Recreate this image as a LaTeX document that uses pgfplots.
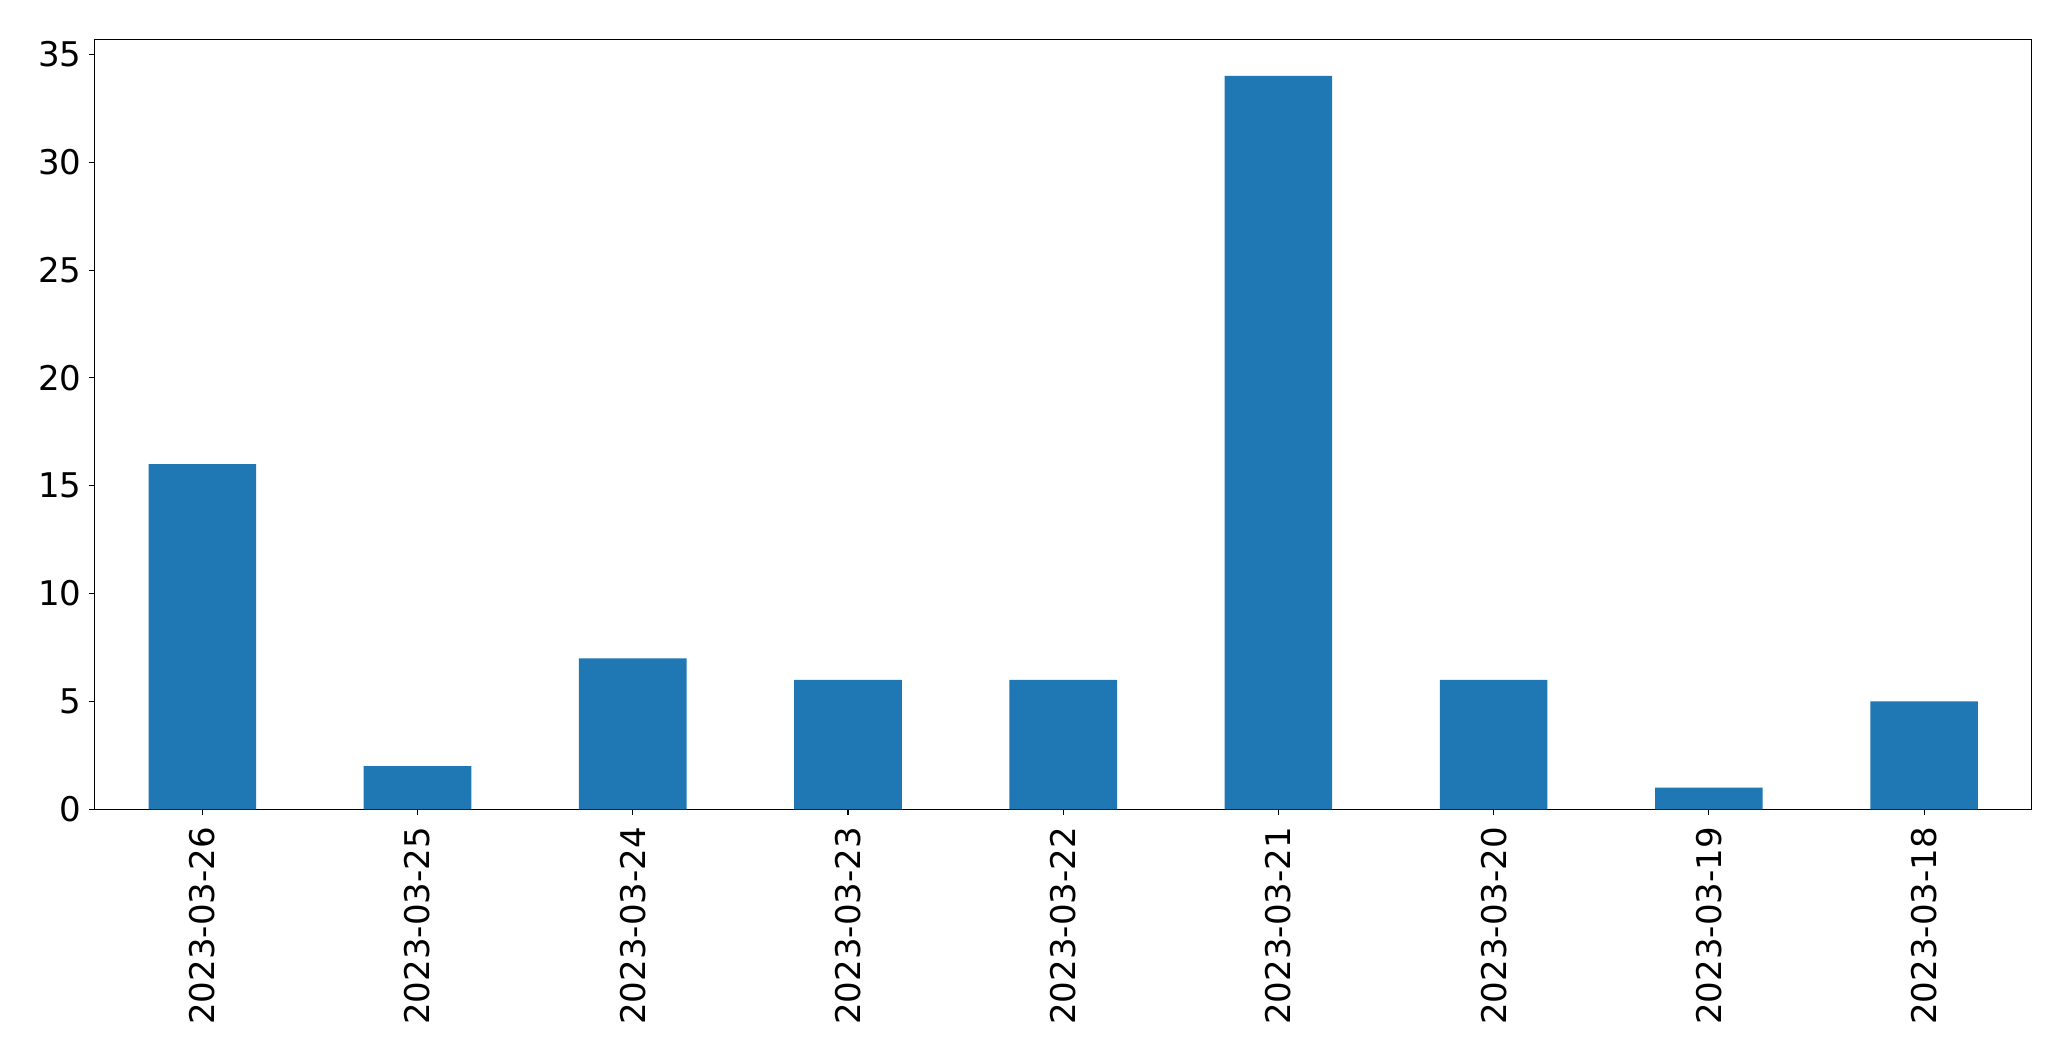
\documentclass[border=0pt]{standalone}
\usepackage{pgfplots}
\pgfplotsset{compat=1.18}
\usepackage{fontspec}
\setmainfont{DejaVu Sans}
\definecolor{mplblue}{HTML}{1F77B4}
\begin{document}
\begin{tikzpicture}
\begin{axis}[
  scale only axis,
  width=968.5pt, height=385pt,
  xmin=-0.5, xmax=8.5,
  ymin=0, ymax=35.7,
  xtick=data,
  xticklabels={2023-03-26,2023-03-25,2023-03-24,2023-03-23,2023-03-22,2023-03-21,2023-03-20,2023-03-19,2023-03-18},
  ytick={0,5,10,15,20,25,30,35},
  tick align=outside,
  major tick length=2.7pt,
  every tick/.style={black, line width=0.55pt},
  axis line style={line width=0.55pt},
  xtick pos=bottom, ytick pos=left,
  /pgf/number format/assume math mode=true,
  tick label style={font=\fontsize{17}{20}\selectfont},
  xticklabel style={rotate=90, anchor=east, inner sep=0pt},
  yticklabel style={anchor=east, inner sep=0pt},
  xticklabel shift=6pt,
  yticklabel shift=3.8pt,
]
\addplot[ybar, bar width=0.5, fill=mplblue, draw=none] coordinates {
(0,16) (1,2) (2,7) (3,6) (4,6) (5,34) (6,6) (7,1) (8,5)
};
\end{axis}
\pgfresetboundingbox
\path[use as bounding box] ([xshift=-47.35pt,yshift=-125.85pt]current axis.south west) rectangle ([xshift=19.65pt,yshift=19.65pt]current axis.north east);
\end{tikzpicture}
\end{document}
